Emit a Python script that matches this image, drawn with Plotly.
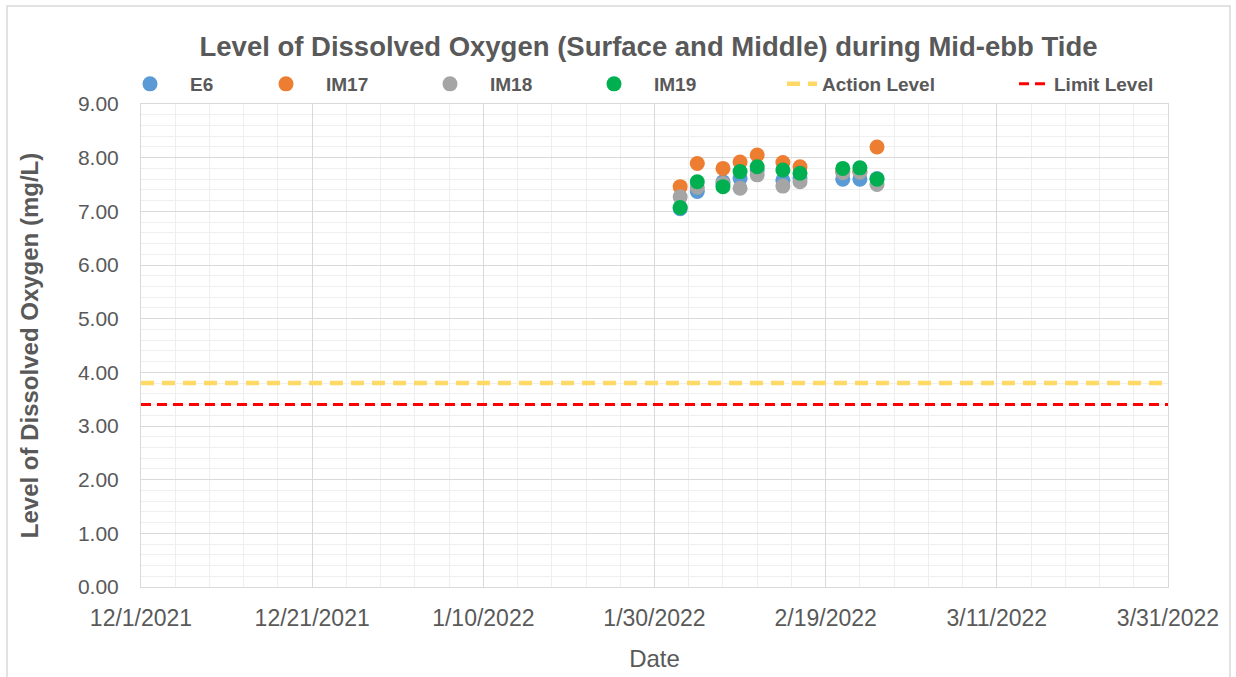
import plotly.graph_objects as go

dates = ["2022-02-02", "2022-02-04", "2022-02-07", "2022-02-09", "2022-02-11",
         "2022-02-14", "2022-02-16", "2022-02-21", "2022-02-23", "2022-02-25"]
e6 = [7.05, 7.37, 7.55, 7.61, 7.77, 7.58, 7.62, 7.60, 7.60, 7.61]
im17 = [7.46, 7.89, 7.80, 7.92, 8.05, 7.91, 7.83, 7.74, 7.74, 8.20]
im18 = [7.27, 7.45, 7.52, 7.43, 7.68, 7.47, 7.55, 7.72, 7.73, 7.50]
im19 = [7.07, 7.55, 7.46, 7.74, 7.83, 7.77, 7.71, 7.80, 7.81, 7.60]
level_dates = ["2021-12-01", "2022-03-31"]
action_level = [3.8, 3.8]
limit_level = [3.4, 3.4]

FONT = "Liberation Sans"
GREY = "#595959"

fig = go.Figure()
series = [("E6", e6, "#5B9BD5", "legend"), ("IM17", im17, "#ED7D31", "legend4"),
          ("IM18", im18, "#A5A5A5", "legend4"), ("IM19", im19, "#00B050", "legend4")]
for name, vals, col, lg in series:
    fig.add_trace(go.Scatter(x=dates, y=vals, mode="markers", name=name, legend=lg,
                             marker=dict(color=col, size=15, line=dict(width=0))))
fig.add_trace(go.Scatter(x=level_dates, y=action_level, mode="lines", name="Action Level",
                         legend="legend2",
                         line=dict(color="#FFD966", width=4.5, dash="13px,8px")))
fig.add_trace(go.Scatter(x=level_dates, y=limit_level, mode="lines", name="Limit Level",
                         legend="legend3",
                         line=dict(color="#FF0000", width=3, dash="10px,6px")))

L, R, T, B = 141, 68, 104, 90
W, H = 1236, 677
pw, ph = W - L - R, H - T - B

def px_x(p):
    return (p - L) / pw

def px_y(p):
    return (H - B - p) / ph

legend_font = dict(family=FONT, size=19, color=GREY, weight="bold")
fig.update_layout(
    width=W, height=H,
    margin=dict(l=L, r=R, t=T, b=B, autoexpand=False),
    paper_bgcolor="white", plot_bgcolor="white",
    title=dict(text="<b>Level of Dissolved Oxygen (Surface and Middle) during Mid-ebb Tide</b>",
               xref="paper", x=px_x(648.5), xanchor="center", y=1 - 46 / H, yanchor="middle",
               font=dict(family=FONT, size=27.5, color=GREY)),
    legend=dict(orientation="h", x=px_x(110), xanchor="left", y=px_y(84), yanchor="middle",
                font=legend_font, itemwidth=70, bgcolor="rgba(0,0,0,0)"),
    legend4=dict(orientation="h", x=px_x(246), xanchor="left", y=px_y(84), yanchor="middle",
                 font=legend_font, entrywidth=79, entrywidthmode="pixels", itemwidth=70,
                 bgcolor="rgba(0,0,0,0)"),
    legend2=dict(orientation="h", x=px_x(782), xanchor="left", y=px_y(84), yanchor="middle",
                 font=legend_font, itemwidth=30, bgcolor="rgba(0,0,0,0)"),
    legend3=dict(orientation="h", x=px_x(1014), xanchor="left", y=px_y(84), yanchor="middle",
                 font=legend_font, itemwidth=30, bgcolor="rgba(0,0,0,0)"),
    showlegend=True,
    shapes=[dict(type="rect", xref="paper", yref="paper",
                 x0=px_x(7), x1=px_x(1230), y0=px_y(700), y1=px_y(6),
                 line=dict(color="#D9D9D9", width=1.5), fillcolor="rgba(0,0,0,0)", layer="below")],
)

fig.update_xaxes(
    type="date", range=["2021-12-01", "2022-03-31"],
    tick0="2021-12-01", dtick=20 * 86400000, tickformat="%-m/%-d/%Y",
    showgrid=True, gridcolor="#D9D9D9", gridwidth=1,
    minor=dict(dtick=4 * 86400000, tick0="2021-12-01", showgrid=True, gridcolor="#EFEFEF", gridwidth=1),
    showline=True, linecolor="#D9D9D9", linewidth=1, mirror=True,
    ticks="", ticklabelstandoff=10,
    tickfont=dict(family=FONT, size=23, color=GREY),
    title=dict(text="Date", font=dict(family=FONT, size=24, color=GREY), standoff=20),
    zeroline=False,
)
fig.update_yaxes(
    range=[0, 9], dtick=1, tickformat=".2f",
    showgrid=True, gridcolor="#D9D9D9", gridwidth=1,
    minor=dict(dtick=0.2, showgrid=True, gridcolor="#EFEFEF", gridwidth=1),
    showline=True, linecolor="#D9D9D9", linewidth=1, mirror=True,
    ticks="", ticklabelstandoff=17,
    tickfont=dict(family=FONT, size=21, color=GREY),
    title=dict(text="<b>Level of Dissolved Oxygen (mg/L)</b>",
               font=dict(family=FONT, size=24, color=GREY), standoff=32),
    zeroline=False,
)

fig.write_html("out.html", config={"displayModeBar": False},
               post_script="document.body.style.margin='0px';")
